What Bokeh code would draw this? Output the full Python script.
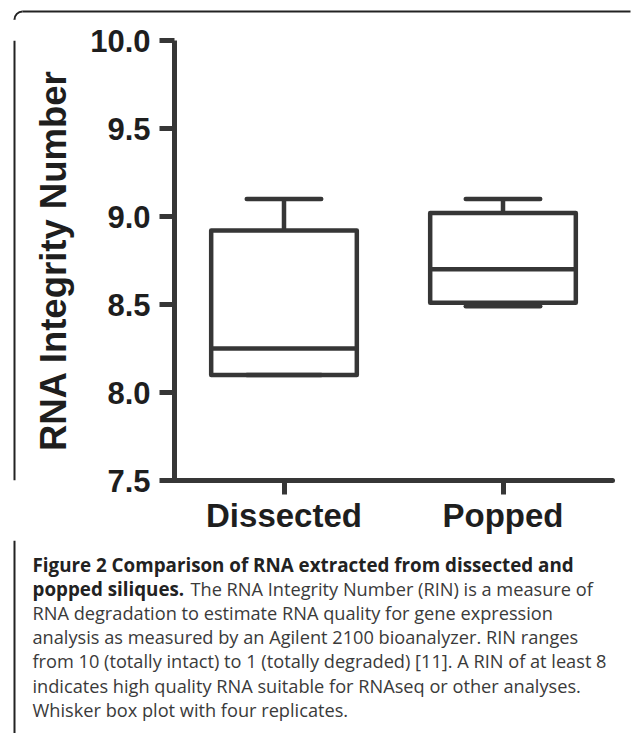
from bokeh.plotting import figure
from bokeh.layouts import column, row
from bokeh.models import Range1d, FixedTicker, NumeralTickFormatter, ColumnDataSource
from bokeh.core.properties import value
from bokeh.embed import file_html
from bokeh.resources import INLINE

# ---- data ----
categories = ["Dissected", "Popped"]
whisker_low = [8.10, 8.49]
quartile1 = [8.10, 8.51]
medians = [8.25, 8.70]
quartile3 = [8.92, 9.02]
whisker_high = [9.10, 9.10]
y_ticks = [7.5, 8.0, 8.5, 9.0, 9.5, 10.0]
y_label = "RNA Integrity Number"

caption_bold_1 = "Figure 2 Comparison of RNA extracted from dissected and"
caption_bold_2 = "popped siliques."
caption_rest_2 = "The RNA Integrity Number (RIN) is a measure of"
caption_lines = [
    "RNA degradation to estimate RNA quality for gene expression",
    "analysis as measured by an Agilent 2100 bioanalyzer. RIN ranges",
    "from 10 (totally intact) to 1 (totally degraded) [11]. A RIN of at least 8",
    "indicates high quality RNA suitable for RNAseq or other analyses.",
    "Whisker box plot with four replicates.",
]

# ---- styles / layout ----
INK = "#363636"
TXT = "#1e1e1e"
FRAME_INK = "#222222"
BOX_W = 0.665
CAP_W = 0.34
LW = 4.5
W, H = 633, 733
TOP_H = 20          # strip holding the top border line
LEFT_W = 30         # strip holding the left border line
MID_H = 520         # chart row height
BOT_H = H - TOP_H - MID_H
BORDER_X = 14
BORDER_Y = 11
RADIUS = 8


def blank(width, height):
    f = figure(width=width, height=height, output_backend="svg", toolbar_location=None,
               x_axis_location=None, y_axis_location=None,
               x_range=Range1d(0, width), y_range=Range1d(height, 0),
               min_border=0, min_border_left=0, min_border_right=0,
               min_border_top=0, min_border_bottom=0)
    f.outline_line_color = None
    f.grid.visible = False
    f.background_fill_color = "white"
    f.border_fill_color = "white"
    return f


# top strip: rounded corner + top rule
top = blank(W, TOP_H)
top.segment(x0=[BORDER_X + RADIUS], y0=[BORDER_Y], x1=[630], y1=[BORDER_Y],
            line_color=FRAME_INK, line_width=2)
top.arc(x=[BORDER_X + RADIUS], y=[BORDER_Y + RADIUS], radius=RADIUS,
        start_angle=1.5708, end_angle=3.1416, direction="anticlock",
        line_color=FRAME_INK, line_width=2)
top.segment(x0=[BORDER_X], y0=[BORDER_Y + RADIUS], x1=[BORDER_X], y1=[TOP_H],
            line_color=FRAME_INK, line_width=2)

# left strip: left rule
left = blank(LEFT_W, MID_H)
left.segment(x0=[BORDER_X], y0=[0], x1=[BORDER_X], y1=[MID_H],
             line_color=FRAME_INK, line_width=2)

# chart
xs = [i + 0.5 for i in range(len(categories))]
p = figure(width=W - LEFT_W, height=MID_H, output_backend="svg", toolbar_location=None,
           x_range=Range1d(0, len(categories)), y_range=Range1d(y_ticks[0], y_ticks[-1]),
           min_border_left=172 - LEFT_W, min_border_right=W - 612,
           min_border_top=40 - TOP_H, min_border_bottom=TOP_H + MID_H - 480)
p.outline_line_color = None
p.grid.visible = False
p.background_fill_color = "white"
p.border_fill_color = "white"

src = ColumnDataSource(dict(
    x=xs, lo=whisker_low, q1=quartile1, med=medians, q3=quartile3, hi=whisker_high,
    cl=[x - CAP_W / 2 for x in xs], cr=[x + CAP_W / 2 for x in xs],
    bl=[x - BOX_W / 2 for x in xs], br=[x + BOX_W / 2 for x in xs],
))

p.segment(x0="x", y0="q3", x1="x", y1="hi", source=src, line_color=INK, line_width=LW)
p.segment(x0="x", y0="lo", x1="x", y1="q1", source=src, line_color=INK, line_width=LW)
p.segment(x0="cl", y0="hi", x1="cr", y1="hi", source=src, line_color=INK, line_width=LW, line_cap="round")
p.segment(x0="cl", y0="lo", x1="cr", y1="lo", source=src, line_color=INK, line_width=LW, line_cap="round")
p.vbar(x="x", width=BOX_W, bottom="q1", top="q3", source=src, fill_color=None,
       line_color=INK, line_width=LW, line_join="round")
p.segment(x0="bl", y0="med", x1="br", y1="med", source=src, line_color=INK, line_width=LW)

ya = p.yaxis[0]
ya.ticker = FixedTicker(ticks=y_ticks)
ya.formatter = NumeralTickFormatter(format="0.0")
ya.axis_label = y_label
ya.axis_label_text_font = "Liberation Sans"
ya.axis_label_text_font_style = "bold"
ya.axis_label_text_font_size = "36.5px"
ya.axis_label_text_color = TXT
ya.axis_label_standoff = 13
ya.major_label_text_font = "Liberation Sans"
ya.major_label_text_font_style = "bold"
ya.major_label_text_font_size = "31px"
ya.major_label_text_color = TXT
ya.major_label_standoff = 9
ya.axis_line_color = INK
ya.axis_line_width = 5
ya.major_tick_line_color = INK
ya.major_tick_line_width = 5
ya.major_tick_out = 15
ya.major_tick_in = 0
ya.minor_tick_line_color = None

xa = p.xaxis[0]
xa.ticker = FixedTicker(ticks=xs)
xa.major_label_overrides = {x: c for x, c in zip(xs, categories)}
xa.major_label_text_font = "Liberation Sans"
xa.major_label_text_font_style = "bold"
xa.major_label_text_font_size = "33px"
xa.major_label_text_color = TXT
xa.major_label_standoff = 2
xa.axis_line_color = INK
xa.axis_line_width = 5
xa.axis_line_cap = "round"
xa.major_tick_line_color = INK
xa.major_tick_line_width = 5
xa.major_tick_out = 14
xa.major_tick_in = 0
xa.minor_tick_line_color = None

# caption strip
bot = blank(W, BOT_H)
bot.segment(x0=[BORDER_X], y0=[0], x1=[BORDER_X], y1=[BOT_H],
            line_color=FRAME_INK, line_width=2)
CAP_FONT = value("Open Sans")
BOLD_SIZE = value("18.8px")
NORM_SIZE = value("18.2px")
X0 = 32
BASE = 564 - TOP_H - MID_H
STEP = 24.2
bot.text(x=[X0], y=[BASE], text=[caption_bold_1], text_font=CAP_FONT, text_font_size=BOLD_SIZE,
         text_font_style="bold", text_color="#222222", text_baseline="alphabetic")
bot.text(x=[X0], y=[BASE + STEP], text=[caption_bold_2], text_font=CAP_FONT, text_font_size=BOLD_SIZE,
         text_font_style="bold", text_color="#222222", text_baseline="alphabetic")
bot.text(x=[190], y=[BASE + STEP], text=[caption_rest_2], text_font=CAP_FONT, text_font_size=NORM_SIZE,
         text_color="#3a3a3a", text_baseline="alphabetic")
bot.text(x=[X0] * len(caption_lines), y=[BASE + STEP * (i + 2) for i in range(len(caption_lines))],
         text=caption_lines, text_font=CAP_FONT, text_font_size=NORM_SIZE,
         text_color="#3a3a3a", text_baseline="alphabetic")

layout = column(top, row(left, p, spacing=0), bot, spacing=0)
open("out.html", "w").write(file_html(layout, INLINE))
